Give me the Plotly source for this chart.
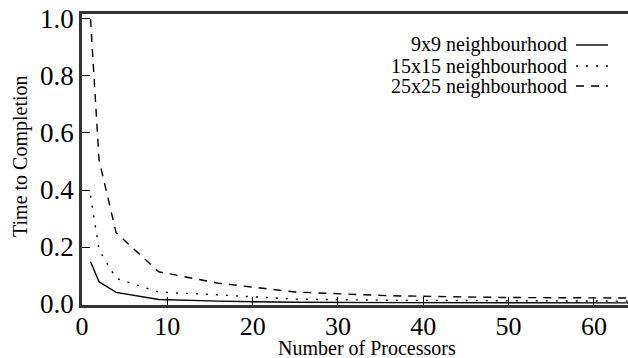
import plotly.graph_objects as go

processors = [1, 2, 4, 9, 16, 25, 36, 49, 64]
n9x9 = [0.148, 0.078, 0.041, 0.016, 0.010, 0.006, 0.005, 0.004, 0.004]
n15x15 = [0.38, 0.19, 0.09, 0.042, 0.032, 0.017, 0.013, 0.011, 0.010]
n25x25 = [1.0, 0.505, 0.25, 0.113, 0.073, 0.042, 0.029, 0.023, 0.021]

series_names = ["9x9 neighbourhood", "15x15 neighbourhood", "25x25 neighbourhood"]
series_vals = [n9x9, n15x15, n25x25]
dashes = ["solid", "2px,8px", "8px,7px"]

x_ticks = [0, 10, 20, 30, 40, 50, 60]
y_ticks = [0.0, 0.2, 0.4, 0.6, 0.8, 1.0]

FONT = "Liberation Serif, Times New Roman, serif"

fig = go.Figure()
for name, vals, d in zip(series_names, series_vals, dashes):
    fig.add_trace(go.Scatter(x=processors, y=vals, mode="lines", name=name,
                             line=dict(color="black", width=1.4, dash=d),
                             showlegend=False))

# custom legend (text left, line sample right)
leg_y = [45, 66, 86]
H = 358
top, bottom = 14, 53
ph = H - top - bottom
for name, d, yy in zip(series_names, dashes, leg_y):
    py = 1 - (yy - top) / ph
    fig.add_annotation(x=(569 - 82) / 546, y=py, xref="paper", yref="paper",
                       text=name, showarrow=False, xanchor="right", yanchor="middle",
                       font=dict(family=FONT, size=20, color="black"))
    fig.add_shape(type="line", xref="paper", yref="paper",
                  x0=(576 - 82) / 546, x1=(608 - 82) / 546, y0=py, y1=py,
                  line=dict(color="black", width=1.4, dash=d))

fig.add_annotation(x=(367 - 82) / 546, y=-(348 - 305) / ph, xref="paper", yref="paper",
                   text="Number of Processors", showarrow=False,
                   xanchor="center", yanchor="middle",
                   font=dict(family=FONT, size=20, color="black"))
fig.add_annotation(x=(20 - 82) / 546, y=(305 - 156) / ph, xref="paper", yref="paper",
                   text="Time to Completion", showarrow=False, textangle=-90,
                   xanchor="center", yanchor="middle",
                   font=dict(family=FONT, size=20, color="black"))

fig.update_layout(
    template="none",
    width=628, height=358,
    margin=dict(l=82, r=0, t=top, b=bottom),
    paper_bgcolor="white", plot_bgcolor="white",
    font=dict(family=FONT, color="black"),
    xaxis=dict(range=[0, 64], tickvals=x_ticks, ticks="inside", ticklen=8,
               tickwidth=1.3, tickcolor="black", showline=True, linecolor="#333",
               linewidth=2.5, mirror=True, showgrid=False, zeroline=False,
               automargin=False, ticklabelstandoff=-4,
               tickfont=dict(family=FONT, size=26, color="black")),
    yaxis=dict(range=[-0.0035, 1.0175], tickvals=y_ticks, tickformat=".1f",
               ticks="inside", ticklen=8, tickwidth=1.3, tickcolor="black",
               showline=True, linecolor="#333", linewidth=2.5, showgrid=False,
               zeroline=False, automargin=False,
               tickfont=dict(family=FONT, size=27, color="black")),
)

fig.write_html("out.html", config={"displayModeBar": False},
               post_script="document.body.style.margin='0';document.body.style.overflow='hidden';")
